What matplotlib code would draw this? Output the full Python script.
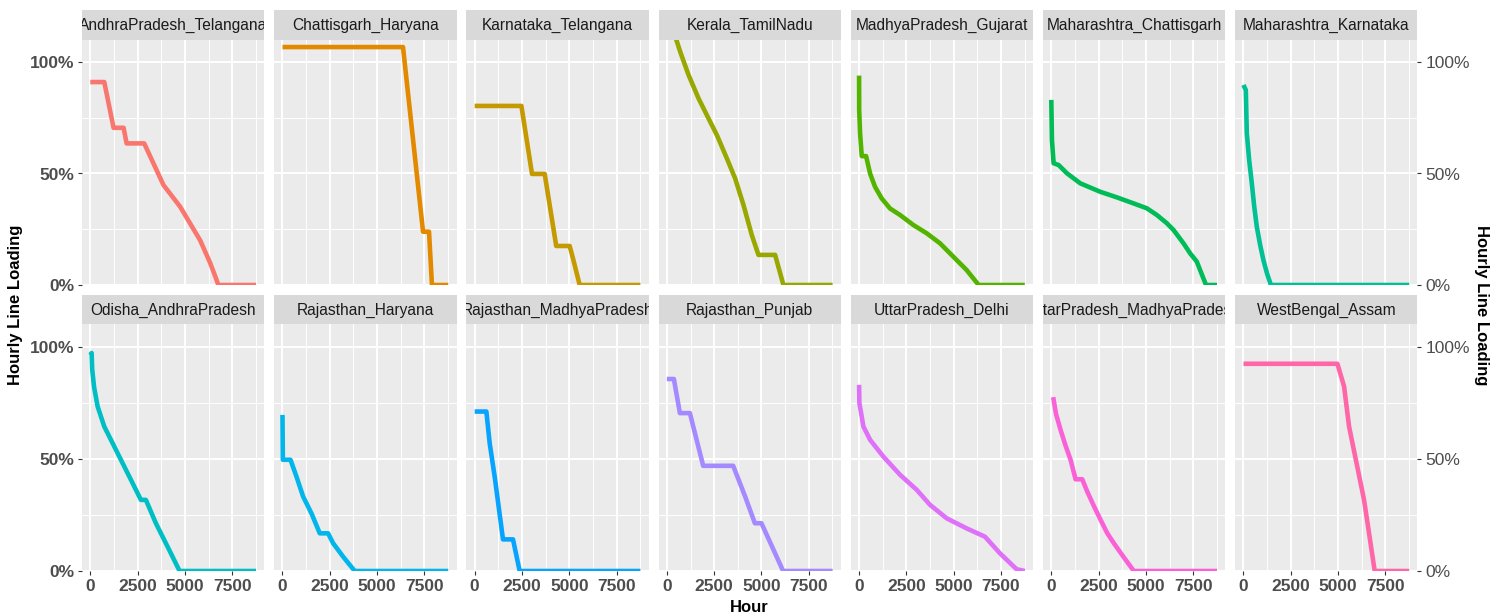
import matplotlib.pyplot as plt
from matplotlib.ticker import FixedLocator, FuncFormatter

plt.rcParams["font.family"] = ["Liberation Sans", "DejaVu Sans"]

# corridor names, in facet order
corridors = [
    "AndhraPradesh_Telangana", "Chattisgarh_Haryana", "Karnataka_Telangana",
    "Kerala_TamilNadu", "MadhyaPradesh_Gujarat", "Maharashtra_Chattisgarh",
    "Maharashtra_Karnataka", "Odisha_AndhraPradesh", "Rajasthan_Haryana",
    "Rajasthan_MadhyaPradesh", "Rajasthan_Punjab", "UttarPradesh_Delhi",
    "UttarPradesh_MadhyaPradesh", "WestBengal_Assam",
]
colors = [
    "#F8766D", "#E38900", "#C49A00", "#99A800", "#53B400", "#00BC56", "#00C094",
    "#00BFC4", "#00B6EB", "#06A4FF", "#A58AFF", "#DF70F8", "#FB61D7", "#FF66A8",
]

# sorted hourly loading (load duration curves), hour vs fraction of rating
ap_tg_hour = [0, 740, 1230, 1760, 1920, 2850, 3870, 4750, 5810, 6340, 6600, 6770, 8760]
ap_tg_load = [0.91, 0.91, 0.705, 0.705, 0.635, 0.635, 0.448, 0.351, 0.20, 0.098, 0.04, 0.0, 0.0]

ct_hr_hour = [0, 6370, 6900, 7430, 7745, 7900, 8760]
ct_hr_load = [1.067, 1.067, 0.653, 0.239, 0.239, 0.0, 0.0]

ka_tg_hour = [0, 2470, 3030, 3700, 4310, 5020, 5190, 5550, 8760]
ka_tg_load = [0.803, 0.803, 0.498, 0.498, 0.175, 0.175, 0.121, 0.0, 0.0]

kl_tn_hour = [0, 475, 704, 1144, 1672, 2200, 2640, 3168, 3608, 4048, 4488, 4840,
              5720, 6160, 8760]
kl_tn_load = [1.23, 1.106, 1.046, 0.942, 0.837, 0.747, 0.673, 0.568, 0.478, 0.359,
              0.224, 0.135, 0.135, 0.0, 0.0]

mp_gj_hour = [0, 5, 53, 141, 370, 581, 845, 1197, 1637, 2165, 2869, 3573, 4277,
              4981, 5685, 6320, 8760]
mp_gj_load = [0.939, 0.785, 0.68, 0.578, 0.578, 0.50, 0.44, 0.388, 0.343, 0.314,
              0.269, 0.232, 0.187, 0.127, 0.067, 0.0, 0.0]

mh_ct_hour = [0, 35, 123, 387, 827, 1531, 2587, 3467, 4347, 5051, 5579, 6107, 6459,
              6987, 7339, 7691, 7867, 8180, 8760]
mh_ct_load = [0.83, 0.65, 0.546, 0.538, 0.501, 0.456, 0.418, 0.393, 0.366, 0.344,
              0.314, 0.277, 0.247, 0.187, 0.142, 0.105, 0.067, 0.0, 0.0]

mh_ka_hour = [0, 123, 176, 300, 440, 570, 704, 880, 1052, 1250, 1450, 8760]
mh_ka_load = [0.897, 0.874, 0.68, 0.56, 0.456, 0.35, 0.261, 0.18, 0.112, 0.05, 0.0, 0.0]

od_ap_hour = [0, 70, 100, 200, 387, 739, 1091, 1707, 2235, 2675, 2939, 3467, 4171,
              4720, 8760]
od_ap_load = [0.964, 0.972, 0.90, 0.82, 0.734, 0.644, 0.585, 0.481, 0.392, 0.317,
              0.317, 0.213, 0.094, 0.0, 0.0]

rj_hr_hour = [0, 20, 423, 739, 1091, 1531, 1971, 2411, 2675, 3203, 3819, 8760]
rj_hr_load = [0.696, 0.496, 0.496, 0.421, 0.332, 0.257, 0.168, 0.168, 0.124, 0.064, 0.0, 0.0]

rj_mp_hour = [0, 618, 792, 1056, 1496, 2025, 2377, 8760]
rj_mp_load = [0.711, 0.711, 0.57, 0.421, 0.141, 0.141, 0.0, 0.0]

rj_pb_hour = [0, 370, 687, 1215, 1919, 3504, 4137, 4649, 5000, 6143, 8760]
rj_pb_load = [0.856, 0.856, 0.704, 0.704, 0.469, 0.469, 0.332, 0.213, 0.213, 0.0, 0.0]

up_dl_hour = [0, 15, 229, 581, 1285, 2165, 3045, 3749, 4629, 5685, 6653, 7445, 8325, 8760]
up_dl_load = [0.83, 0.749, 0.644, 0.585, 0.51, 0.429, 0.362, 0.295, 0.235, 0.19, 0.153,
              0.079, 0.008, 0.0]

up_mp_hour = [100, 250, 491, 750, 1019, 1283, 1637, 1901, 2250, 2606, 2950, 3306, 3800,
              4363, 8760]
up_mp_load = [0.775, 0.70, 0.629, 0.56, 0.496, 0.409, 0.409, 0.354, 0.29, 0.228, 0.17,
              0.124, 0.065, 0.0, 0.0]

wb_as_hour = [0, 4965, 5317, 5581, 6373, 6935, 8760]
wb_as_load = [0.924, 0.924, 0.823, 0.644, 0.317, 0.0, 0.0]

series = [
    (ap_tg_hour, ap_tg_load), (ct_hr_hour, ct_hr_load), (ka_tg_hour, ka_tg_load),
    (kl_tn_hour, kl_tn_load), (mp_gj_hour, mp_gj_load), (mh_ct_hour, mh_ct_load),
    (mh_ka_hour, mh_ka_load), (od_ap_hour, od_ap_load), (rj_hr_hour, rj_hr_load),
    (rj_mp_hour, rj_mp_load), (rj_pb_hour, rj_pb_load), (up_dl_hour, up_dl_load),
    (up_mp_hour, up_mp_load), (wb_as_hour, wb_as_load),
]

W, H = 1498, 616
fig = plt.figure(figsize=(W / 100, H / 100), dpi=100)


def px_rect(x0, y0, w, h):
    # pixel box (from top-left) -> figure fraction rect
    return [x0 / W, 1 - (y0 + h) / H, w / W, h / H]


ncol = 7
panel_w = 182.3
pitch = 192.2
left0 = 82
panel_top = [39.7, 324.3]
panel_h = [245.3, 246.7]
strip_top = [10, 295]

pct = FuncFormatter(lambda v, _: f"{v * 100:.0f}%")

for i, (name, col, (hours, load)) in enumerate(zip(corridors, colors, series)):
    r, c = divmod(i, ncol)
    x0 = left0 + c * pitch
    ax = fig.add_axes(px_rect(x0, panel_top[r], panel_w, panel_h[r]))
    ax.set_facecolor("#EBEBEB")
    for s in ax.spines.values():
        s.set_visible(False)
    ax.set_xlim(-438, 9198)
    ax.set_ylim(0, 1.1)

    ax.xaxis.set_major_locator(FixedLocator([0, 2500, 5000, 7500]))
    ax.xaxis.set_minor_locator(FixedLocator([1250, 3750, 6250, 8750]))
    ax.yaxis.set_major_locator(FixedLocator([0, 0.5, 1.0]))
    ax.yaxis.set_minor_locator(FixedLocator([0.25, 0.75]))
    ax.grid(which="major", color="white", linewidth=1.4)
    ax.grid(which="minor", color="white", linewidth=0.7)
    ax.set_axisbelow(True)
    ax.yaxis.set_major_formatter(pct)

    ax.tick_params(which="minor", length=0)
    ax.tick_params(which="major", length=3.2, width=0.8, color="#333333",
                   labelsize=12.5, labelcolor="#4D4D4D", pad=2.5)
    for lab in ax.get_xticklabels() + ax.get_yticklabels():
        lab.set_fontweight("bold")

    if r == 0:
        ax.tick_params(axis="x", bottom=False, labelbottom=False)
    if c == 0:
        ax.tick_params(axis="y", left=True, labelleft=True)
    elif c == ncol - 1:
        ax.tick_params(axis="y", left=False, labelleft=False, right=True, labelright=True)
    else:
        ax.tick_params(axis="y", left=False, labelleft=False)

    ax.plot(hours, load, color=col, linewidth=3.3, solid_capstyle="butt",
            solid_joinstyle="round")

    strip = fig.add_axes(px_rect(x0, strip_top[r], panel_w, panel_top[r] - strip_top[r]))
    strip.set_facecolor("#D9D9D9")
    strip.set_xticks([])
    strip.set_yticks([])
    for s in strip.spines.values():
        s.set_visible(False)
    strip.text(0.5, 0.47, name, transform=strip.transAxes, ha="center", va="center",
               fontsize=11.2, color="#1A1A1A", clip_on=True)

fig.text(16 / W, 1 - 305 / H, "Hourly Line Loading", rotation=90, ha="center",
         va="center", fontsize=12, fontweight="bold")
fig.text(1481 / W, 1 - 305 / H, "Hourly Line Loading", rotation=-90, ha="center",
         va="center", fontsize=12, fontweight="bold")
fig.text(749 / W, 1 - 607 / H, "Hour", ha="center", va="center", fontsize=12,
         fontweight="bold")

fig.savefig("out.png", dpi=100, facecolor="white")
